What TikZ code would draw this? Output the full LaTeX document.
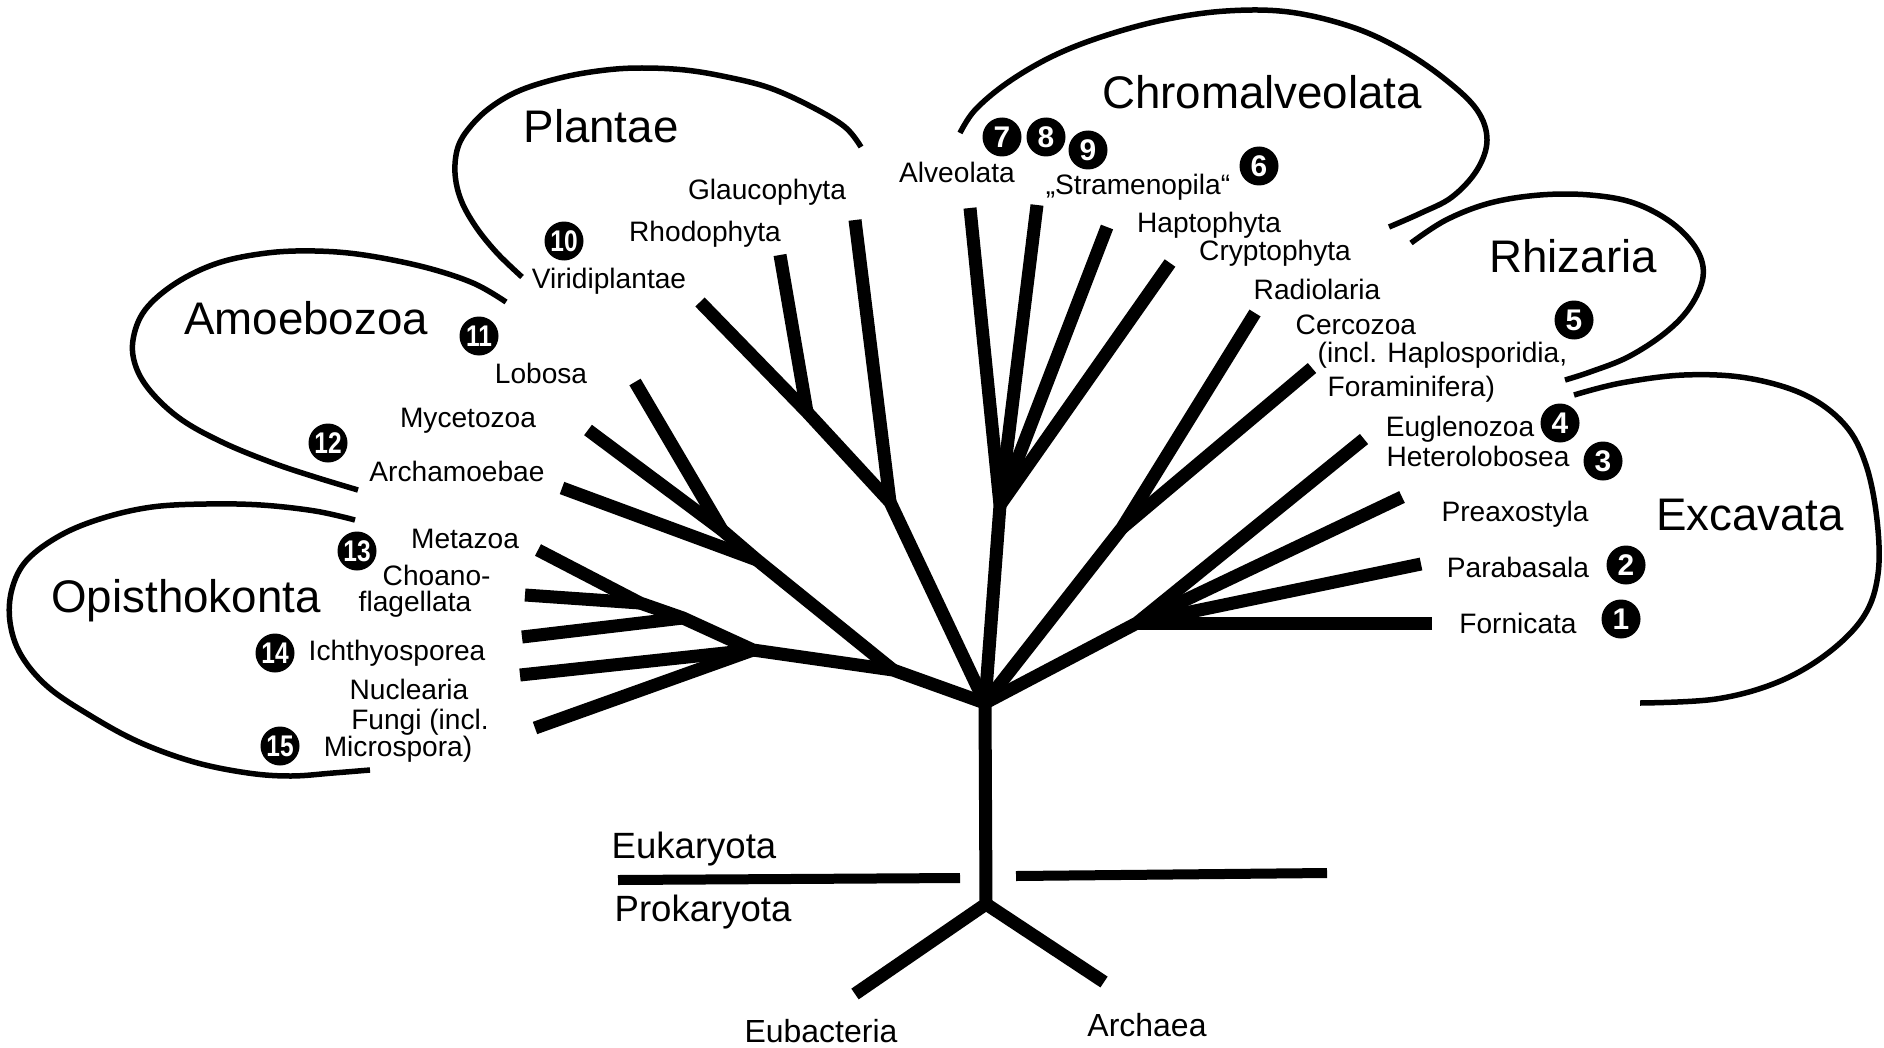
\documentclass[tikz,border=0pt]{standalone}
\usepackage{fontspec}
\setmainfont{Liberation Sans}

\newcommand{\narrow}[1]{\scalebox{0.82}[1]{#1}}

\begin{document}
\begin{tikzpicture}[x=0.1mm, y=-0.1mm, line join=round,
		branch/.style={line width=1.3mm},
		divider/.style={line width=1.0mm},
		outline/.style={line width=0.55mm},
		lbl/.style={inner sep=0pt, font=\fontsize{8}{9.6}\selectfont, text height=2.02mm, text depth=0pt},
		grp/.style={inner sep=0pt, font=\fontsize{13}{15.6}\selectfont, text height=3.28mm, text depth=0pt},
		dom/.style={inner sep=0pt, font=\fontsize{10.4}{12.5}\selectfont, text height=2.63mm, text depth=0pt},
		pro/.style={inner sep=0pt, font=\fontsize{9.1}{11}\selectfont, text height=2.3mm, text depth=0pt},
		numdot/.style={circle, fill=black, text=white, inner sep=0pt, minimum size=3.9mm, font=\fontsize{8.5}{9}\selectfont\bfseries}]
	
	\path[use as bounding box, fill=white] (0,0) rectangle (1884,1047);
	
	% Root and the prokaryote split
	\coordinate (R) at (985,703);
	\coordinate (J) at (986,904);
	\coordinate (eub) at (855,994);
	\coordinate (arc) at (1104,982);
	
	% Opisthokonta tips and hubs
	\coordinate (met) at (538,550);
	\coordinate (cho) at (525,595);
	\coordinate (ich) at (522,637);
	\coordinate (nuc) at (520,675);
	\coordinate (fun) at (535,728);
	\coordinate (choj) at (640,603);
	\coordinate (ichj) at (683,618);
	\coordinate (O) at (753,650);
	\coordinate (N) at (893,670);
	
	% Amoebozoa
	\coordinate (lob) at (635,382);
	\coordinate (myc) at (588,430);
	\coordinate (mycj) at (722,530);
	\coordinate (arch) at (562,488);
	\coordinate (A) at (757,560);
	
	% Plantae
	\coordinate (vir) at (700,302);
	\coordinate (rho) at (780,255);
	\coordinate (rhoj) at (807,412);
	\coordinate (gla) at (855,220);
	\coordinate (P) at (890,502);
	
	% Chromalveolata
	\coordinate (alv) at (970,208);
	\coordinate (str) at (1037,205);
	\coordinate (hap) at (1107,227);
	\coordinate (cry) at (1170,263);
	\coordinate (C) at (1000,505);
	
	% Rhizaria
	\coordinate (rad) at (1255,313);
	\coordinate (cer) at (1312,368);
	\coordinate (cerj) at (1122,528);
	
	% Excavata
	\coordinate (eug) at (1364,439);
	\coordinate (pre) at (1402,497);
	\coordinate (par) at (1421,564);
	\coordinate (for) at (1432,623);
	\coordinate (E) at (1137,623);
	
	% Branches
	\draw[branch] (met) -- (choj) -- (ichj) -- (O) -- (N) -- (R);
	\draw[branch] (cho) -- (choj);
	\draw[branch] (ich) -- (ichj);
	\draw[branch] (nuc) -- (O);
	\draw[branch] (fun) -- (O);
	\draw[branch] (lob) -- (mycj) -- (A) -- (N);
	\draw[branch] (myc) -- (mycj);
	\draw[branch] (arch) -- (A);
	\draw[branch] (vir) -- (rhoj) -- (P) -- (R);
	\draw[branch] (rho) -- (rhoj);
	\draw[branch] (gla) -- (P);
	\draw[branch] (alv) -- (C) -- (R);
	\draw[branch] (str) -- (C);
	\draw[branch] (hap) -- (C);
	\draw[branch] (cry) -- (C);
	\draw[branch] (rad) -- (cerj) -- (R);
	\draw[branch] (cer) -- (cerj);
	\draw[branch] (eug) -- (E) -- (R);
	\draw[branch] (pre) -- (E);
	\draw[branch] (par) -- (E);
	\draw[branch] (for) -- (E);
	\draw[branch] (R) -- (J);
	\draw[branch] (eub) -- (J) -- (arc);
	
	% Eukaryota / Prokaryota divide
	\coordinate (dl1) at (618,880);
	\coordinate (dl2) at (960,878);
	\coordinate (dr1) at (1016,876);
	\coordinate (dr2) at (1327,873);
	\draw[divider] (dl1) -- (dl2);
	\draw[divider] (dr1) -- (dr2);
	
	% Group outlines
	\draw[outline] plot[smooth, tension=0.6] coordinates {(522,277) (497,253) (476,227) (461,200) (455,173) (458,147) (470,127) (491,107) (521,90) (564,77) (606,70) (642,68) (685,70) (727,77) (770,88) (812,107) (845,127) (861,147)};
	\draw[outline] plot[smooth, tension=0.6] coordinates {(506,302) (473,283) (424,267) (364,255) (315,251) (267,253) (218,263) (176,283) (145,310) (133,340) (136,367) (152,393) (182,420) (224,443) (273,463) (315,477) (358,490)};
	\draw[outline] plot[smooth, tension=0.6] coordinates {(355,520) (315,511) (261,505) (206,504) (152,507) (103,518) (61,535) (27,560) (12,589) (10,622) (21,655) (48,687) (91,716) (139,742) (194,762) (248,773) (291,776) (333,773) (370,770)};
	\draw[outline] plot[smooth, tension=0.6] coordinates {(960,133) (975,110) (1007,83) (1051,57) (1101,37) (1163,20) (1226,11) (1289,12) (1352,27) (1402,50) (1446,80) (1477,110) (1487,140) (1477,170) (1452,197) (1421,213) (1389,227)};
	\draw[outline] plot[smooth, tension=0.6] coordinates {(1411,243) (1446,220) (1490,203) (1540,195) (1590,195) (1634,203) (1672,223) (1697,250) (1703,277) (1690,307) (1665,333) (1628,357) (1590,372) (1565,380)};
	\draw[outline] plot[smooth, tension=0.6] coordinates {(1574,395) (1621,383) (1684,375) (1747,378) (1805,395) (1845,425) (1866,465) (1877,520) (1878,574) (1864,616) (1828,653) (1778,682) (1716,699) (1640,703)};
	
	% Group names
	\node[grp] (plantae) at (601,126) {Plantae};
	\node[grp] (chromalv) at (1262,92) {Chromalveolata};
	\node[grp] (rhizaria) at (1573,256) {Rhizaria};
	\node[grp] (amoebozoa) at (306,318) {Amoebozoa};
	\node[grp] (opistho) at (186,596) {Opisthokonta};
	\node[grp] (excavata) at (1750,514) {Excavata};
	
	% Taxon labels
	\node[lbl] (tgla) at (767,189) {Glaucophyta};
	\node[lbl] (trho) at (705,231) {Rhodophyta};
	\node[lbl] (tvir) at (609,278) {Viridiplantae};
	\node[lbl] (talv) at (957,172) {Alveolata};
	\node[lbl] (tstr) at (1138,184) {„Stramenopila“};
	\node[lbl] (thap) at (1209,222) {Haptophyta};
	\node[lbl] (tcry) at (1275,250) {Cryptophyta};
	\node[lbl] (trad) at (1317,289) {Radiolaria};
	\node[lbl, anchor=west] (tcer) at (1295,324) {Cercozoa};
	\node[lbl, anchor=west] (tcer2) at (1317,352) {(incl. Haplosporidia,};
	\node[lbl, anchor=west] (tcer3) at (1327,386) {Foraminifera)};
	\node[lbl] (teug) at (1460,426) {Euglenozoa};
	\node[lbl] (thet) at (1478,456) {Heterolobosea};
	\node[lbl] (tpre) at (1515,511) {Preaxostyla};
	\node[lbl] (tpar) at (1518,567) {Parabasala};
	\node[lbl] (tfor) at (1518,623) {Fornicata};
	\node[lbl] (tlob) at (541,373) {Lobosa};
	\node[lbl] (tmyc) at (468,417) {Mycetozoa};
	\node[lbl] (tarch) at (457,471) {Archamoebae};
	\node[lbl] (tmet) at (465,538) {Metazoa};
	\node[lbl, anchor=west] (tcho) at (382,575) {Choano-};
	\node[lbl, anchor=west] (tcho2) at (358,601) {flagellata};
	\node[lbl] (tich) at (397,650) {Ichthyosporea};
	\node[lbl] (tnuc) at (409,689) {Nuclearia};
	\node[lbl] (tfun) at (420,719) {Fungi (incl.};
	\node[lbl] (tfun2) at (398,746) {Microspora)};
	
	% Domains
	\node[dom] (eukar) at (694,845) {Eukaryota};
	\node[dom] (prokar) at (703,908) {Prokaryota};
	\node[pro] (teub) at (821,1031) {Eubacteria};
	\node[pro] (tarc) at (1147,1025) {Archaea};
	
	% Numbered marks
	\node[numdot] (n1) at (1621,619) {1};
	\node[numdot] (n2) at (1626,565) {2};
	\node[numdot] (n3) at (1603,461) {3};
	\node[numdot] (n4) at (1560,423) {4};
	\node[numdot] (n5) at (1574,320) {5};
	\node[numdot] (n6) at (1259,166) {6};
	\node[numdot] (n7) at (1002,137) {7};
	\node[numdot] (n8) at (1046,137) {8};
	\node[numdot] (n9) at (1088,150) {9};
	\node[numdot] (n10) at (564,241) {\narrow{10}};
	\node[numdot] (n11) at (479,336) {\narrow{11}};
	\node[numdot] (n12) at (328,443) {\narrow{12}};
	\node[numdot] (n13) at (357,551) {\narrow{13}};
	\node[numdot] (n14) at (275,653) {\narrow{14}};
	\node[numdot] (n15) at (280,746) {\narrow{15}};
	
\end{tikzpicture}
\end{document}
